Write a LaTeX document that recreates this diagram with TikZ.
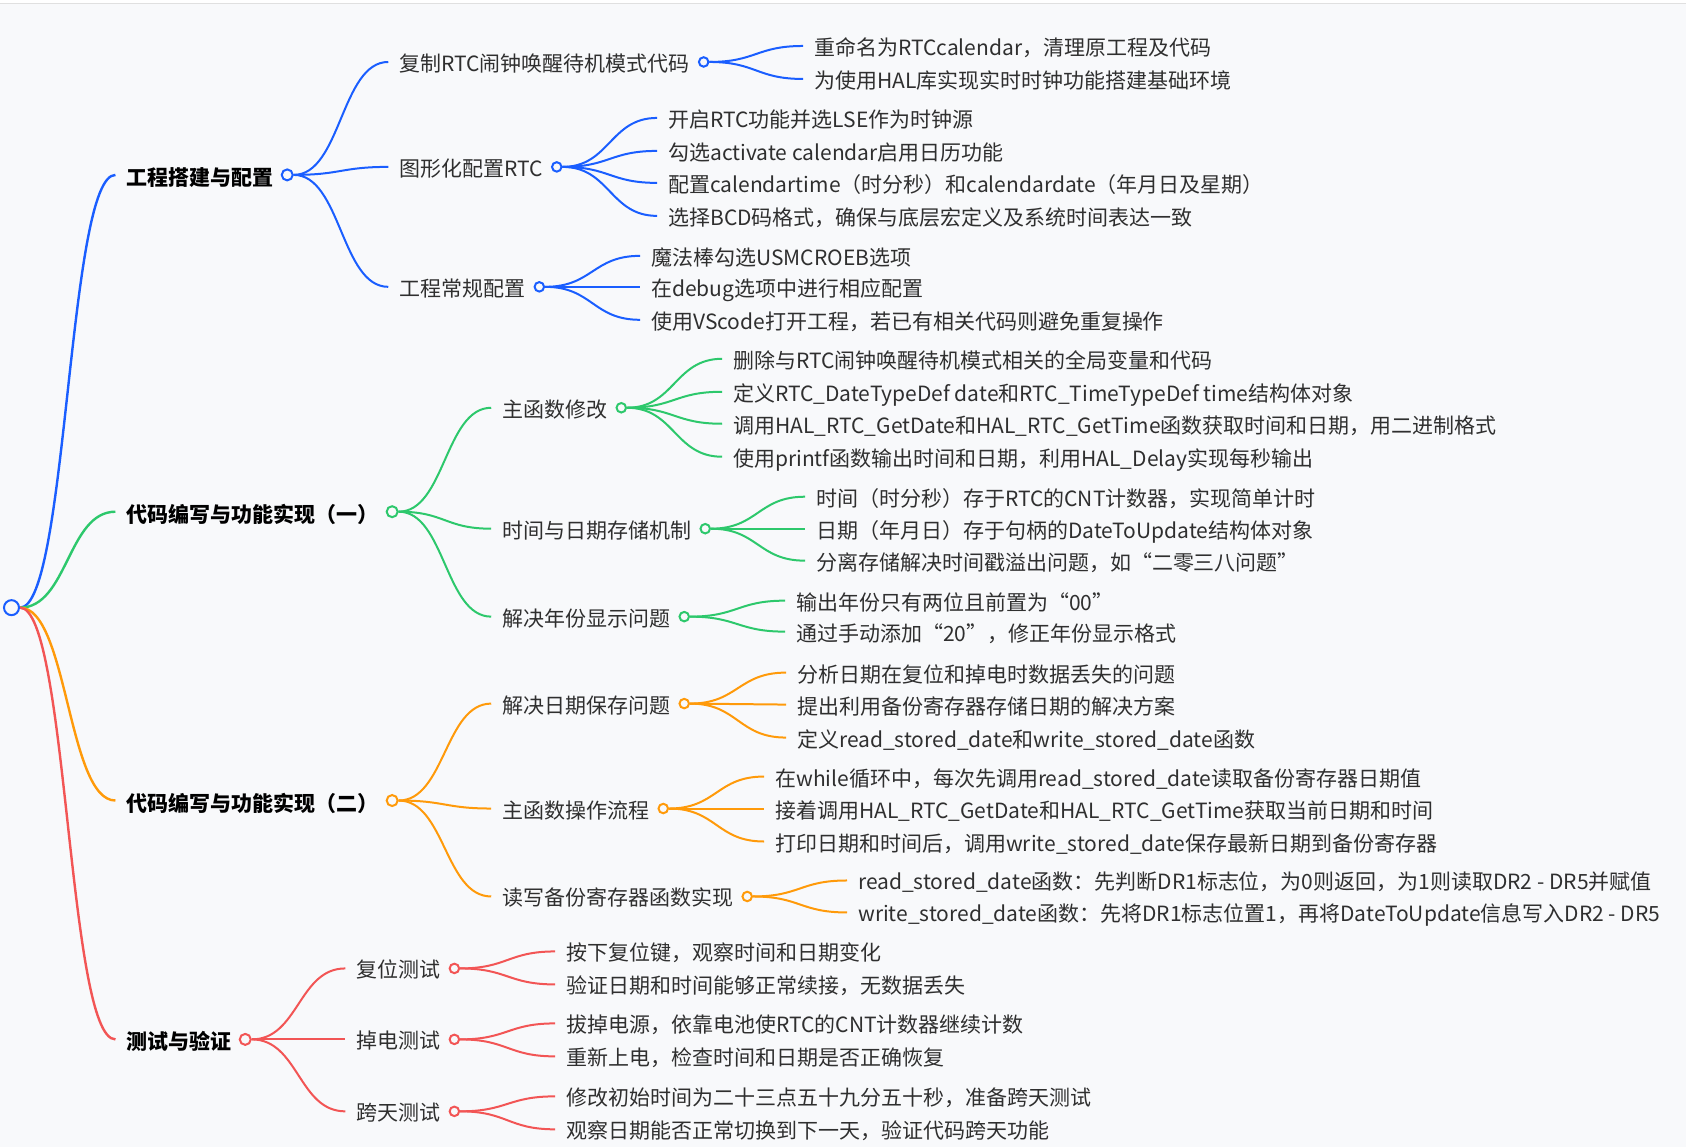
\documentclass[tikz,border=0pt]{standalone}
\usepackage{fontspec}
\setmainfont{Noto Sans CJK SC}
\usetikzlibrary{calc}
\pgfdeclarelayer{bg}
\pgfsetlayers{bg,main}
\definecolor{bgc}{HTML}{F8F9FB}
\definecolor{cb}{HTML}{1A5EFF}
\definecolor{cg}{HTML}{2DC86C}
\definecolor{co}{HTML}{FF9A0A}
\definecolor{cr}{HTML}{F25555}
\definecolor{tx}{HTML}{2F2F2F}
\newcommand\mlink[3]{\draw[#1] let \p1=(#2), \p2=(#3), \n1={0.5*\x1+0.5*\x2} in (\p1) .. controls (\n1,\y1) and (\n1,\y2) .. (\p2);}
\begin{document}
\begin{tikzpicture}[x=1pt,y=-1pt,
  txt/.style={anchor=west, inner xsep=11pt, inner ysep=0pt, text height=20pt, text depth=1pt, text=tx, font=\fontsize{21}{25}\selectfont},
  lone/.style={txt, text=black, text height=22pt, font=\fontsize{21}{25}\selectfont\bfseries},
  dot/.style={circle, line width=2pt, fill=bgc, inner sep=0pt, minimum size=9.5pt, anchor=west},
  bigdot/.style={dot, minimum size=11pt},
  lk/.style={line width=2pt},
  lkone/.style={line width=2.4pt}]
\begin{pgfonlayer}{bg}
\fill[bgc] (0,0) rectangle (1686,1148);
\fill[white] (0,0) rectangle (1686,3);
\draw[line width=1pt, draw=black!12] (0,3.5) -- (1686,3.5);
\end{pgfonlayer}
\useasboundingbox (0,0) rectangle (1686,1148);

% root
\node[dot, minimum size=15pt, draw=cb, anchor=center] (R) at (11,608) {};

% level 1
\node[lone] (A) at (115,175) {工程搭建与配置};
\node[bigdot, draw=cb] (Ad) at ([xshift=-4pt]A.east) {};
\node[lone] (B) at (115,512) {代码编写与功能实现（一）};
\node[bigdot, draw=cg] (Bd) at ([xshift=-4pt]B.east) {};
\node[lone] (C) at (115,801) {代码编写与功能实现（二）};
\node[bigdot, draw=co] (Cd) at ([xshift=-4pt]C.east) {};
\node[lone] (D) at (115,1040) {测试与验证};
\node[bigdot, draw=cr] (Dd) at ([xshift=-4pt]D.east) {};

% level 2
\node[txt] (A1) at (388,62) {复制RTC闹钟唤醒待机模式代码};
\node[dot, draw=cb] (A1d) at ([xshift=-3pt]A1.east) {};
\node[txt] (A2) at (388,167) {图形化配置RTC};
\node[dot, draw=cb] (A2d) at ([xshift=-3pt]A2.east) {};
\node[txt] (A3) at (388,287) {工程常规配置};
\node[dot, draw=cb] (A3d) at ([xshift=-3pt]A3.east) {};

\node[txt] (B1) at (491,408) {主函数修改};
\node[dot, draw=cg] (B1d) at ([xshift=-3pt]B1.east) {};
\node[txt] (B2) at (491,529) {时间与日期存储机制};
\node[dot, draw=cg] (B2d) at ([xshift=-3pt]B2.east) {};
\node[txt] (B3) at (491,617) {解决年份显示问题};
\node[dot, draw=cg] (B3d) at ([xshift=-3pt]B3.east) {};

\node[txt] (C1) at (491,704) {解决日期保存问题};
\node[dot, draw=co] (C1d) at ([xshift=-3pt]C1.east) {};
\node[txt] (C2) at (491,809) {主函数操作流程};
\node[dot, draw=co] (C2d) at ([xshift=-3pt]C2.east) {};
\node[txt] (C3) at (491,897) {读写备份寄存器函数实现};
\node[dot, draw=co] (C3d) at ([xshift=-3pt]C3.east) {};

\node[txt] (D1) at (345,969) {复位测试};
\node[dot, draw=cr] (D1d) at ([xshift=-3pt]D1.east) {};
\node[txt] (D2) at (345,1040) {掉电测试};
\node[dot, draw=cr] (D2d) at ([xshift=-3pt]D2.east) {};
\node[txt] (D3) at (345,1112) {跨天测试};
\node[dot, draw=cr] (D3d) at ([xshift=-3pt]D3.east) {};

% level 3
\node[txt] (A1a) at (803,46) {重命名为RTCcalendar，清理原工程及代码};
\node[txt] (A1b) at (803,79) {为使用HAL库实现实时时钟功能搭建基础环境};
\node[txt] (A2a) at (657,118) {开启RTC功能并选LSE作为时钟源};
\node[txt] (A2b) at (657,151) {勾选activate calendar启用日历功能};
\node[txt] (A2c) at (657,183) {配置calendartime（时分秒）和calendardate（年月日及星期）};
\node[txt] (A2e) at (657,216) {选择BCD码格式，确保与底层宏定义及系统时间表达一致};
\node[txt] (A3a) at (640,256) {魔法棒勾选USMCROEB选项};
\node[txt] (A3b) at (640,287) {在debug选项中进行相应配置};
\node[txt] (A3c) at (640,320) {使用VScode打开工程，若已有相关代码则避免重复操作};

\node[txt] (B1a) at (722,359) {删除与RTC闹钟唤醒待机模式相关的全局变量和代码};
\node[txt] (B1b) at (722,392) {定义RTC\_DateTypeDef date和RTC\_TimeTypeDef time结构体对象};
\node[txt] (B1c) at (722,424) {调用HAL\_RTC\_GetDate和HAL\_RTC\_GetTime函数获取时间和日期，用二进制格式};
\node[txt] (B1e) at (722,457) {使用printf函数输出时间和日期，利用HAL\_Delay实现每秒输出};
\node[txt] (B2a) at (805,497) {时间（时分秒）存于RTC的CNT计数器，实现简单计时};
\node[txt] (B2b) at (805,529) {日期（年月日）存于句柄的DateToUpdate结构体对象};
\node[txt] (B2c) at (805,561) {分离存储解决时间戳溢出问题，如“二零三八问题”};
\node[txt] (B3a) at (785,601) {输出年份只有两位且前置为“00”};
\node[txt] (B3b) at (785,632) {通过手动添加“20”，修正年份显示格式};

\node[txt] (C1a) at (786,673) {分析日期在复位和掉电时数据丢失的问题};
\node[txt] (C1b) at (786,705) {提出利用备份寄存器存储日期的解决方案};
\node[txt] (C1c) at (786,738) {定义read\_stored\_date和write\_stored\_date函数};
\node[txt] (C2a) at (764,777) {在while循环中，每次先调用read\_stored\_date读取备份寄存器日期值};
\node[txt] (C2b) at (764,809) {接着调用HAL\_RTC\_GetDate和HAL\_RTC\_GetTime获取当前日期和时间};
\node[txt] (C2c) at (764,842) {打印日期和时间后，调用write\_stored\_date保存最新日期到备份寄存器};
\node[txt] (C3a) at (847,881) {read\_stored\_date函数：先判断DR1标志位，为0则返回，为1则读取DR2 - DR5并赋值};
\node[txt] (C3b) at (847,913) {write\_stored\_date函数：先将DR1标志位置1，再将DateToUpdate信息写入DR2 - DR5};

\node[txt] (D1a) at (555,952) {按下复位键，观察时间和日期变化};
\node[txt] (D1b) at (555,985) {验证日期和时间能够正常续接，无数据丢失};
\node[txt] (D2a) at (555,1024) {拔掉电源，依靠电池使RTC的CNT计数器继续计数};
\node[txt] (D2b) at (555,1057) {重新上电，检查时间和日期是否正确恢复};
\node[txt] (D3a) at (555,1097) {修改初始时间为二十三点五十九分五十秒，准备跨天测试};
\node[txt] (D3b) at (555,1130) {观察日期能否正常切换到下一天，验证代码跨天功能};

\begin{pgfonlayer}{bg}
\mlink{lkone,cb}{R.east}{A.west}
\mlink{lkone,cg}{R.east}{B.west}
\mlink{lkone,co}{R.east}{C.west}
\mlink{lkone,cr}{R.east}{D.west}

\foreach \q/\cc in {A/cb,B/cg,C/co,D/cr}{
  \foreach \k in {1,2,3}{
    \mlink{lk,\cc}{\q d.east}{\q\k.west}
  }
}
\foreach \q/\cc/\ks in {A1/cb/{a,b}, A2/cb/{a,b,c,e}, A3/cb/{a,b,c},
  B1/cg/{a,b,c,e}, B2/cg/{a,b,c}, B3/cg/{a,b},
  C1/co/{a,b,c}, C2/co/{a,b,c}, C3/co/{a,b},
  D1/cr/{a,b}, D2/cr/{a,b}, D3/cr/{a,b}}{
  \foreach \k in \ks{
    \mlink{lk,\cc}{\q d.east}{\q\k.west}
  }
}
\end{pgfonlayer}
\end{tikzpicture}
\end{document}
